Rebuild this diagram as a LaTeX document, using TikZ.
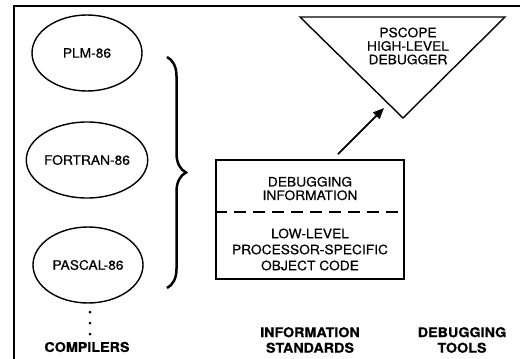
\documentclass[tikz,border=0pt]{standalone}
\usepackage{fontspec}
\setmainfont[FakeBold=0.5,FakeStretch=1.06]{TeX Gyre Heros}
\usetikzlibrary{shapes.geometric,arrows.meta,decorations.pathreplacing}
\begin{document}
\begin{tikzpicture}[
  x=1pt, y=-1pt,
  every node/.style={font=\fontsize{13}{13.5}\selectfont, align=center, inner sep=0pt},
  lang/.style={ellipse, draw, line width=1.4pt, minimum width=110pt, minimum height=76pt},
  caption/.style={font=\fontsize{13.5}{15.5}\selectfont\bfseries},
  flow/.style={-{Triangle[length=11pt,width=9pt]}, line width=1.8pt},
]
\useasboundingbox (0,0) rectangle (523,359);

% ── open frame ──────────────────────
\draw[line width=2pt] (14,359) -- (14,6) -- (520,6);

% ── compilers ───────────────────────
\node[lang] (plm)     at (87,53)  {PLM-86};
\node[lang] (fortran) at (87,160) {FORTRAN-86};
\node[lang] (pascal)  at (88,265) {PASCAL-86};
\foreach \y in {312,323,334}
  \fill (90,\y) circle (1.5pt);
\draw[decorate, decoration={brace, amplitude=19pt}, line width=2.5pt]
  (167,57) -- (167,288);

% ── information standard ────────────
\node[draw, line width=1.6pt, minimum width=188pt, minimum height=119pt]
  (infobox) at (310,219.5) {};
\coordinate (split) at (0,212);
\draw[line width=1.8pt, dash pattern=on 12pt off 7pt]
  (infobox.west |- split) -- (infobox.east |- split);
\node (dbginfo) at (310,188.5) {DEBUGGING\\INFORMATION};
\node[font=\fontsize{13}{16}\selectfont] (objcode) at (310,249.5)
  {LOW-LEVEL\\PROCESSOR-SPECIFIC\\OBJECT CODE};

% ── debugging tool ──────────────────
\coordinate (tl) at (300,17);
\coordinate (tr) at (505,17);
\coordinate (tb) at (403,118);
\draw[line width=1.4pt] (tl) -- (tr) -- (tb) -- cycle;
\node (pscope) at (408,46) {PSCOPE\\HIGH-LEVEL\\DEBUGGER};
\coordinate (tip) at (384,108);
\draw[flow] ([xshift=28pt,yshift=5pt]infobox.north) -- (tip);

% ── column captions ─────────────────
\node[caption] (compilers) at (87,347)  {COMPILERS};
\node[caption] (standards) at (310,340) {INFORMATION\\STANDARDS};
\node[caption] (tools)     at (462,340) {DEBUGGING\\TOOLS};

\end{tikzpicture}
\end{document}
